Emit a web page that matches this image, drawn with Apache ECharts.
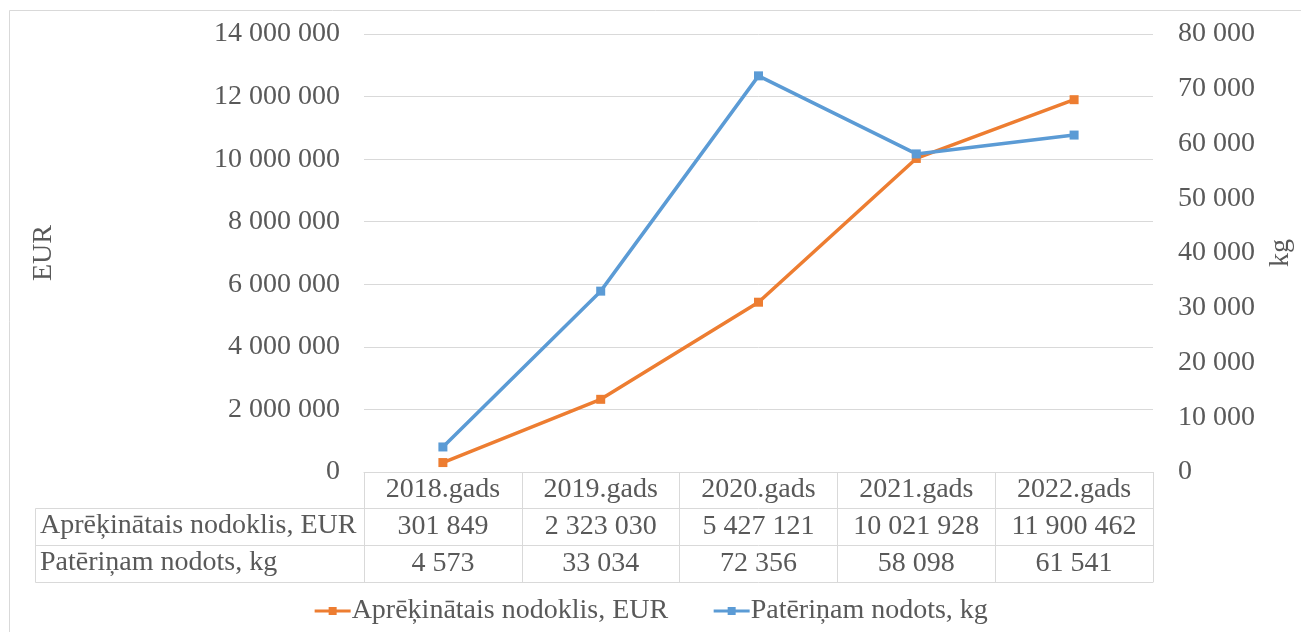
<!DOCTYPE html>
<html>
<head>
<meta charset="utf-8">
<script src="https://cdn.jsdelivr.net/npm/echarts@6/dist/echarts.min.js"></script>
<style>
  html, body { margin: 0; padding: 0; background: #fff; }
  #chart { width: 1301px; height: 632px; }
</style>
</head>
<body>
<div id="chart"></div>
<script>
var years = ["2018.gads", "2019.gads", "2020.gads", "2021.gads", "2022.gads"];
var taxName = "Aprēķinātais nodoklis, EUR";
var kgName = "Patēriņam nodots, kg";
var taxValues = [301849, 2323030, 5427121, 10021928, 11900462];
var kgValues = [4573, 33034, 72356, 58098, 61541];

var font = "Liberation Serif";
var fontSize = 28;
var textColor = "#595959";
var gridColor = "#d9d9d9";

// 12 345 678 style
function fmt(v) {
  return String(v).replace(/\B(?=(\d{3})+(?!\d))/g, " ");
}

var gridLeft = 364, gridRight = 1153;
// top edges of the data table rows (and its bottom edge)
var rowTops = [472, 508, 545, 582];

var chartDom = document.getElementById("chart");
var myChart = echarts.init(chartDom);

var labelStyle = { fontFamily: font, fontSize: fontSize, color: textColor };

// each table row is drawn by a category axis sitting on the bottom edge of its own grid
function tableGrid(rowTop) {
  return { left: gridLeft, right: 1301 - gridRight, top: 34, bottom: 632 - rowTop, outerBoundsMode: "none" };
}

function tableAxis(gridIndex, data, h, name) {
  var axis = {
    type: "category",
    gridIndex: gridIndex,
    position: "bottom",
    data: data,
    boundaryGap: true,
    axisLine: { show: true, lineStyle: { color: gridColor, width: 1 } },
    axisTick: { show: h > 0, interval: 0, length: h, lineStyle: { color: gridColor, width: 1 } },
    axisLabel: Object.assign({ show: h > 0, interval: 0, margin: h / 2, verticalAlign: "middle", hideOverlap: false }, labelStyle)
  };
  if (name) {
    axis.name = name;
    axis.nameLocation = "start";
    axis.nameGap = gridLeft - 40;
    axis.nameMoveOverlap = false;
    axis.nameTextStyle = Object.assign({ align: "left", verticalAlign: "top", padding: [4, 0, 0, 0] }, labelStyle);
  }
  return axis;
}

var option = {
  animation: false,
  backgroundColor: "#fff",
  textStyle: { fontFamily: font },
  grid: [
    tableGrid(rowTops[0]),
    tableGrid(rowTops[1]),
    tableGrid(rowTops[2]),
    tableGrid(rowTops[3])
  ],
  legend: {
    top: 592,
    left: "center",
    itemWidth: 36,
    itemHeight: 10,
    itemGap: 44,
    lineStyle: { width: 3 },
    textStyle: Object.assign({ padding: [0, 0, 0, -4] }, labelStyle),
    data: [taxName, kgName]
  },
  graphic: [
    {
      type: "rect",
      shape: { x: 9.5, y: 10.5, width: 1400, height: 700 },
      style: { fill: "none", stroke: gridColor, lineWidth: 1 },
      silent: true
    },
    {
      type: "polyline",
      shape: { points: [[gridLeft, rowTops[1] + 0.5], [35.5, rowTops[1] + 0.5], [35.5, rowTops[3] + 0.5], [gridLeft, rowTops[3] + 0.5]] },
      style: { fill: "none", stroke: gridColor, lineWidth: 1 },
      silent: true
    },
    {
      type: "line",
      shape: { x1: 35.5, y1: rowTops[2] + 0.5, x2: gridLeft, y2: rowTops[2] + 0.5 },
      style: { stroke: gridColor, lineWidth: 1 },
      silent: true
    }
  ],
  xAxis: [
    tableAxis(0, years, rowTops[1] - rowTops[0]),
    tableAxis(1, taxValues.map(fmt), rowTops[2] - rowTops[1], taxName),
    tableAxis(2, kgValues.map(fmt), rowTops[3] - rowTops[2], kgName),
    tableAxis(3, years, 0)
  ],
  yAxis: [
    {
      type: "value",
      gridIndex: 0,
      min: 0,
      max: 14000000,
      interval: 2000000,
      name: "EUR",
      nameLocation: "middle",
      nameRotate: 90,
      nameGap: 306,
      nameTextStyle: labelStyle,
      axisLine: { show: false },
      axisTick: { show: false },
      axisLabel: Object.assign({ margin: 24, formatter: fmt }, labelStyle),
      splitLine: { show: true, lineStyle: { color: gridColor, width: 1 } }
    },
    {
      type: "value",
      gridIndex: 0,
      min: 0,
      max: 80000,
      interval: 10000,
      name: "kg",
      nameLocation: "middle",
      nameRotate: 90,
      nameGap: 114,
      nameTextStyle: labelStyle,
      axisLine: { show: false },
      axisTick: { show: false },
      axisLabel: Object.assign({ margin: 25, formatter: fmt }, labelStyle),
      splitLine: { show: false }
    },
    { type: "value", gridIndex: 1, show: false },
    { type: "value", gridIndex: 2, show: false },
    { type: "value", gridIndex: 3, show: false }
  ],
  series: [
    {
      name: taxName,
      type: "line",
      xAxisIndex: 0,
      yAxisIndex: 0,
      data: taxValues,
      symbol: "rect",
      symbolSize: 9,
      showAllSymbol: true,
      lineStyle: { color: "#ED7D31", width: 3.5 },
      itemStyle: { color: "#ED7D31" }
    },
    {
      name: kgName,
      type: "line",
      xAxisIndex: 0,
      yAxisIndex: 1,
      data: kgValues,
      symbol: "rect",
      symbolSize: 9,
      showAllSymbol: true,
      lineStyle: { color: "#5B9BD5", width: 3.5 },
      itemStyle: { color: "#5B9BD5" }
    }
  ]
};

myChart.setOption(option);

window.addEventListener("resize", () => {
  myChart.resize();
});
</script>
</body>
</html>
